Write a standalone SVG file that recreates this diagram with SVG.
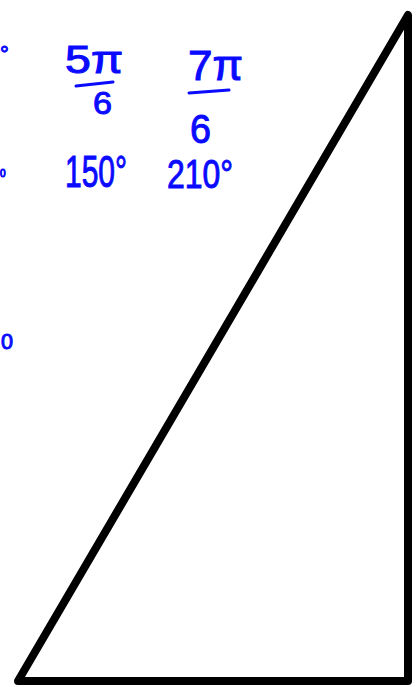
<svg xmlns="http://www.w3.org/2000/svg" width="417" height="687" viewBox="0 0 417 687">
<style>
.hw{font-family:"Liberation Sans","DejaVu Sans",sans-serif;fill:#0a0aff;stroke:#0a0aff;stroke-width:1}
.bar{stroke:#0a0aff;stroke-width:3;stroke-linecap:round;fill:none}
</style>
<rect width="417" height="687" fill="#fff"/>
<g id="triangle">
<polygon points="18,681 408,15 408,681" fill="none" stroke="#000" stroke-width="8" stroke-linejoin="round"/>
</g>
<g id="edge-marks">
<text class="hw" x="0" y="62" font-size="22">°</text>
<text class="hw" x="0" y="177" font-size="10">0</text>
<text class="hw" x="1" y="349" font-size="22" textLength="12" lengthAdjust="spacingAndGlyphs">0</text>
</g>
<g id="frac-5pi6">
<text class="hw" x="65" y="73" font-size="38" textLength="58" lengthAdjust="spacingAndGlyphs">5π</text>
<line class="bar" x1="76" y1="86" x2="113" y2="82"/>
<text class="hw" x="93" y="114" font-size="32" textLength="19" lengthAdjust="spacingAndGlyphs">6</text>
</g>
<g id="frac-7pi6">
<text class="hw" x="188" y="80" font-size="42" textLength="55" lengthAdjust="spacingAndGlyphs">7π</text>
<line class="bar" x1="189" y1="93" x2="229" y2="90"/>
<text class="hw" x="190" y="143" font-size="40" textLength="21" lengthAdjust="spacingAndGlyphs">6</text>
</g>
<g id="deg-150">
<text class="hw" x="65" y="187" font-size="44" textLength="62" lengthAdjust="spacingAndGlyphs">150°</text>
</g>
<g id="deg-210">
<text class="hw" x="167" y="188" font-size="40" textLength="66" lengthAdjust="spacingAndGlyphs">210°</text>
</g>
</svg>
